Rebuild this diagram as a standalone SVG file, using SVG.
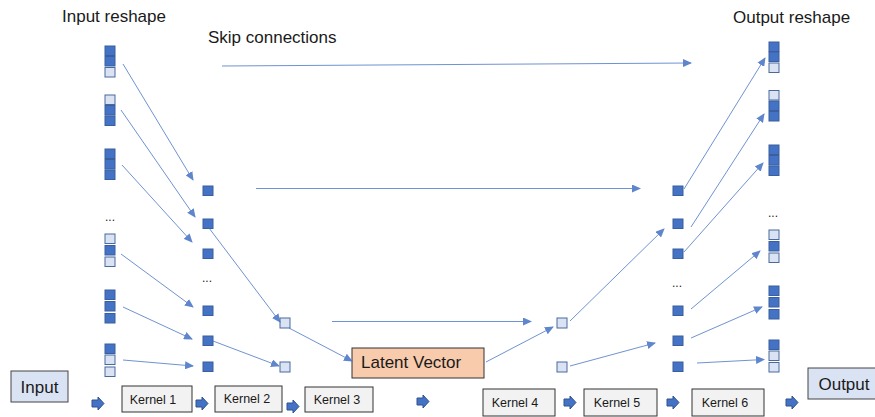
<svg xmlns="http://www.w3.org/2000/svg" width="875" height="417" viewBox="0 0 875 417">
<style>
.t{font-family:"Liberation Sans",Arial,sans-serif;fill:#1a1a1a}
.lbl{font-size:17px}
.k{font-size:12.5px}
.dots{font-size:12px}
.d{fill:#4472C4;stroke:#3A5F9E;stroke-width:1}
.l{fill:#DAE3F3;stroke:#4A6A9C;stroke-width:1}
.kb{fill:#F2F2F2;stroke:#333;stroke-width:1}
.io{fill:#DAE3F3;stroke:#444;stroke-width:1}
.c{stroke:#4472C4;stroke-width:0.9;fill:none;opacity:0.85;marker-end:url(#ah)}
.ba{fill:#4472C4;stroke:#2F528F;stroke-width:1}
</style>
<defs>
<marker id="ah" markerUnits="userSpaceOnUse" markerWidth="9" markerHeight="8" refX="8" refY="4" orient="auto">
<path d="M0,0 L9,4 L0,8 Z" fill="#4472C4"/>
</marker>
<path id="blk" d="M0,-3.5 H6 V-6.5 L12,0 L6,6.5 V3.5 H0 Z"/>
</defs>
<rect width="875" height="417" fill="#fff"/>

<g id="titles">
<text class="t lbl" x="62" y="22">Input reshape</text>
<text class="t lbl" x="208" y="43">Skip connections</text>
<text class="t lbl" x="733" y="23">Output reshape</text>
</g>

<g id="input-reshape">
<rect class="d" x="105" y="46" width="10" height="9.5"/>
<rect class="d" x="105" y="56.5" width="10" height="9.5"/>
<rect class="l" x="105" y="67.5" width="10" height="9.5"/>
<rect class="l" x="105" y="95" width="10" height="9.5"/>
<rect class="d" x="105" y="105.5" width="10" height="9.5"/>
<rect class="d" x="105" y="116" width="10" height="9.5"/>
<rect class="d" x="105" y="149" width="10" height="9.5"/>
<rect class="d" x="105" y="159.5" width="10" height="9.5"/>
<rect class="d" x="105" y="170" width="10" height="9.5"/>
<text class="t dots" x="105" y="221">...</text>
<rect class="l" x="105" y="234" width="10" height="9.5"/>
<rect class="d" x="105" y="245.5" width="10" height="9.5"/>
<rect class="l" x="105" y="257" width="10" height="9.5"/>
<rect class="d" x="105" y="290" width="10" height="9.5"/>
<rect class="d" x="105" y="301.5" width="10" height="9.5"/>
<rect class="d" x="105" y="313.5" width="10" height="9.5"/>
<rect class="d" x="105" y="344" width="10" height="9.5"/>
<rect class="l" x="105" y="355" width="10" height="9.5"/>
<rect class="l" x="105" y="367" width="10" height="9.5"/>
</g>

<g id="layer1">
<rect class="d" x="203" y="186" width="10" height="9.5"/>
<rect class="d" x="203" y="219" width="10" height="9.5"/>
<rect class="d" x="203" y="249" width="10" height="9.5"/>
<text class="t dots" x="202" y="282">...</text>
<rect class="d" x="203" y="306" width="10" height="9.5"/>
<rect class="d" x="203" y="336" width="10" height="9.5"/>
<rect class="d" x="203" y="362" width="10" height="9.5"/>
</g>

<g id="layer2">
<rect class="l" x="280" y="318" width="10" height="10"/>
<rect class="l" x="280" y="362" width="10" height="10"/>
</g>

<g id="latent">
<rect x="352" y="348" width="132" height="30" fill="#F8CBAD" stroke="#333" stroke-width="1"/>
<text class="t lbl" x="361" y="368">Latent Vector</text>
</g>

<g id="layer4">
<rect class="l" x="557" y="318" width="10" height="10"/>
<rect class="l" x="557" y="362" width="10" height="10"/>
</g>

<g id="layer5">
<rect class="d" x="673" y="186" width="10" height="9.5"/>
<rect class="d" x="673" y="219" width="10" height="9.5"/>
<rect class="d" x="673" y="249" width="10" height="9.5"/>
<text class="t dots" x="672" y="287">...</text>
<rect class="d" x="673" y="306" width="10" height="9.5"/>
<rect class="d" x="673" y="336" width="10" height="9.5"/>
<rect class="d" x="673" y="362" width="10" height="9.5"/>
</g>

<g id="output-reshape">
<rect class="d" x="769" y="42" width="10" height="9.5"/>
<rect class="d" x="769" y="52" width="10" height="9.5"/>
<rect class="l" x="769" y="63" width="10" height="9.5"/>
<rect class="l" x="769" y="90.5" width="10" height="9.5"/>
<rect class="d" x="769" y="101" width="10" height="9.5"/>
<rect class="d" x="769" y="111.5" width="10" height="9.5"/>
<rect class="d" x="769" y="145" width="10" height="9.5"/>
<rect class="d" x="769" y="155.5" width="10" height="9.5"/>
<rect class="d" x="769" y="166" width="10" height="9.5"/>
<text class="t dots" x="768" y="217">...</text>
<rect class="l" x="769" y="230" width="10" height="9.5"/>
<rect class="d" x="769" y="241.5" width="10" height="9.5"/>
<rect class="l" x="769" y="253" width="10" height="9.5"/>
<rect class="d" x="769" y="286" width="10" height="9.5"/>
<rect class="d" x="769" y="297.5" width="10" height="9.5"/>
<rect class="d" x="769" y="309.5" width="10" height="9.5"/>
<rect class="d" x="769" y="340" width="10" height="9.5"/>
<rect class="l" x="769" y="351" width="10" height="9.5"/>
<rect class="l" x="769" y="362.5" width="10" height="9.5"/>
</g>

<g id="input"><rect class="io" x="11" y="371" width="57" height="31"/><text class="t lbl" x="39.5" y="393" text-anchor="middle">Input</text></g>
<g id="output"><rect class="io" x="808" y="368" width="70" height="31"/><text class="t lbl" x="844" y="390" text-anchor="middle">Output</text></g>

<g id="kernel1"><rect class="kb" x="122" y="386" width="70" height="26"/><text class="t k" x="153" y="404" text-anchor="middle">Kernel  1</text></g>
<g id="kernel2"><rect class="kb" x="215" y="386" width="67" height="26"/><text class="t k" x="247" y="403" text-anchor="middle">Kernel  2</text></g>
<g id="kernel3"><rect class="kb" x="305" y="387" width="68" height="25"/><text class="t k" x="337" y="404" text-anchor="middle">Kernel  3</text></g>
<g id="kernel4"><rect class="kb" x="483" y="389" width="72" height="27"/><text class="t k" x="515" y="407" text-anchor="middle">Kernel  4</text></g>
<g id="kernel5"><rect class="kb" x="584" y="389" width="73" height="27"/><text class="t k" x="617" y="407" text-anchor="middle">Kernel  5</text></g>
<g id="kernel6"><rect class="kb" x="692" y="389" width="72" height="27"/><text class="t k" x="725" y="407" text-anchor="middle">Kernel  6</text></g>

<g id="flow-arrows" class="ba">
<use href="#blk" x="92" y="403.5"/>
<use href="#blk" x="196" y="403.5"/>
<use href="#blk" x="287" y="406.5"/>
<use href="#blk" x="417" y="401.5"/>
<use href="#blk" x="564" y="402.5"/>
<use href="#blk" x="667" y="402.5"/>
<use href="#blk" x="786" y="402.5"/>
</g>

<g id="connectors">
<line class="c" x1="123" y1="64" x2="193" y2="180"/>
<line class="c" x1="121" y1="110" x2="195" y2="217"/>
<line class="c" x1="122" y1="165" x2="192" y2="242"/>
<line class="c" x1="121" y1="254" x2="193" y2="307"/>
<line class="c" x1="123" y1="307" x2="192" y2="339"/>
<line class="c" x1="123" y1="360" x2="193" y2="366"/>
<line class="c" x1="209" y1="228" x2="280" y2="322"/>
<line class="c" x1="213" y1="341" x2="279" y2="366"/>
<line class="c" x1="289" y1="328" x2="352" y2="361"/>
<line class="c" x1="222" y1="66" x2="691" y2="63"/>
<line class="c" x1="256" y1="188.5" x2="640" y2="188.5"/>
<line class="c" x1="332" y1="321.5" x2="531" y2="321.5"/>
<line class="c" x1="486" y1="362" x2="553" y2="327"/>
<line class="c" x1="570" y1="321" x2="664" y2="229"/>
<line class="c" x1="570" y1="366" x2="655" y2="343"/>
<line class="c" x1="684" y1="189" x2="765" y2="58"/>
<line class="c" x1="691" y1="227" x2="764" y2="114"/>
<line class="c" x1="684" y1="252" x2="763" y2="163"/>
<line class="c" x1="691" y1="309" x2="760" y2="251"/>
<line class="c" x1="691" y1="338" x2="762" y2="307"/>
<line class="c" x1="697" y1="363" x2="764" y2="359.5"/>
</g>
</svg>
